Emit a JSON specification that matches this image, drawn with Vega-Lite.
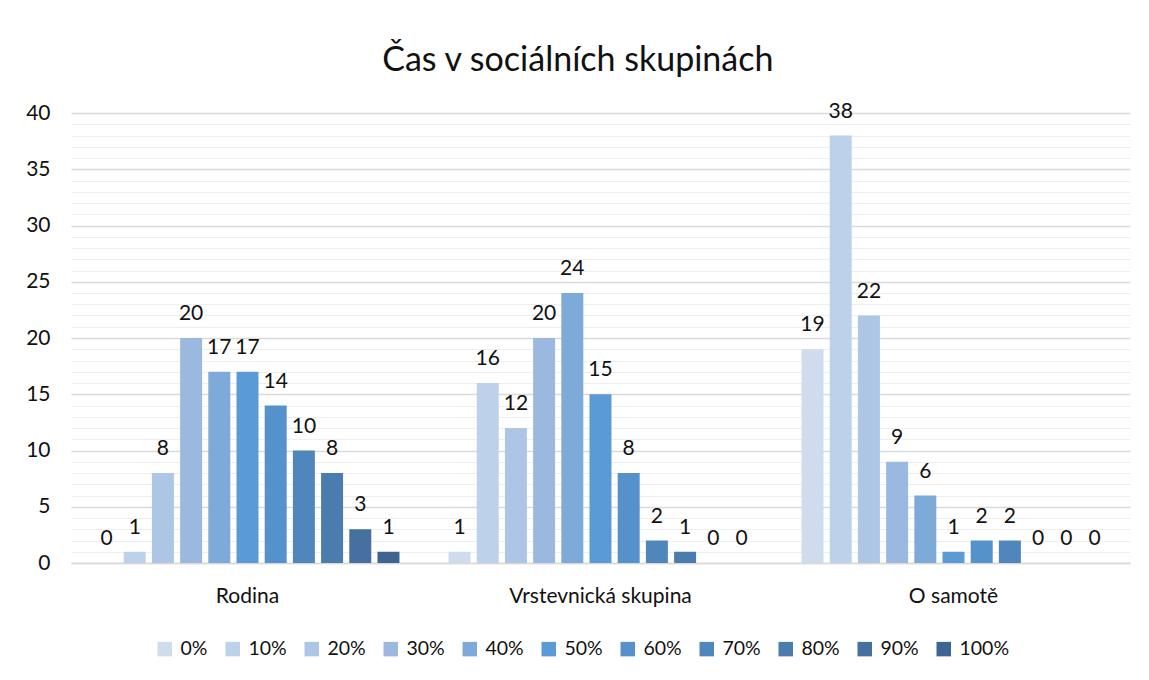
{
  "$schema": "https://vega.github.io/schema/vega-lite/v6.json",
  "width": 1059,
  "height": 450,
  "autosize": "none",
  "padding": {"left": 71, "top": 113, "right": 19, "bottom": 117},
  "background": "white",
  "title": {"text": "Čas v sociálních skupinách", "font": "Lato", "fontSize": 34, "fontWeight": "normal", "color": "#111111", "frame": "bounds", "anchor": "middle", "offset": 23},
  "config": {
    "view": {"stroke": null},
    "font": "Lato",
    "axis": {"labelFont": "Lato", "labelColor": "#111111", "labelFontSize": 21}
  },
  "data": {"values": [
    {"group": "Rodina", "series": "0%", "value": 0},
    {"group": "Rodina", "series": "10%", "value": 1},
    {"group": "Rodina", "series": "20%", "value": 8},
    {"group": "Rodina", "series": "30%", "value": 20},
    {"group": "Rodina", "series": "40%", "value": 17},
    {"group": "Rodina", "series": "50%", "value": 17},
    {"group": "Rodina", "series": "60%", "value": 14},
    {"group": "Rodina", "series": "70%", "value": 10},
    {"group": "Rodina", "series": "80%", "value": 8},
    {"group": "Rodina", "series": "90%", "value": 3},
    {"group": "Rodina", "series": "100%", "value": 1},
    {"group": "Vrstevnická skupina", "series": "0%", "value": 1},
    {"group": "Vrstevnická skupina", "series": "10%", "value": 16},
    {"group": "Vrstevnická skupina", "series": "20%", "value": 12},
    {"group": "Vrstevnická skupina", "series": "30%", "value": 20},
    {"group": "Vrstevnická skupina", "series": "40%", "value": 24},
    {"group": "Vrstevnická skupina", "series": "50%", "value": 15},
    {"group": "Vrstevnická skupina", "series": "60%", "value": 8},
    {"group": "Vrstevnická skupina", "series": "70%", "value": 2},
    {"group": "Vrstevnická skupina", "series": "80%", "value": 1},
    {"group": "Vrstevnická skupina", "series": "90%", "value": 0},
    {"group": "Vrstevnická skupina", "series": "100%", "value": 0},
    {"group": "O samotě", "series": "0%", "value": 19},
    {"group": "O samotě", "series": "10%", "value": 38},
    {"group": "O samotě", "series": "20%", "value": 22},
    {"group": "O samotě", "series": "30%", "value": 9},
    {"group": "O samotě", "series": "40%", "value": 6},
    {"group": "O samotě", "series": "50%", "value": 1},
    {"group": "O samotě", "series": "60%", "value": 2},
    {"group": "O samotě", "series": "70%", "value": 2},
    {"group": "O samotě", "series": "80%", "value": 0},
    {"group": "O samotě", "series": "90%", "value": 0},
    {"group": "O samotě", "series": "100%", "value": 0}
  ]},
  "encoding": {
    "x": {"field": "group", "type": "nominal", "sort": ["Rodina", "Vrstevnická skupina", "O samotě"],
      "scale": {"paddingInner": 0, "paddingOuter": 0},
      "axis": {"title": null, "labelAngle": 0, "ticks": false, "domain": true, "domainColor": "#d9d9d9", "domainWidth": 1.5, "labelPadding": 22, "labelBaseline": "top", "labelLimit": 400}},
    "xOffset": {"field": "series", "type": "nominal", "sort": ["0%", "10%", "20%", "30%", "40%", "50%", "60%", "70%", "80%", "90%", "100%"],
      "scale": {"paddingInner": 0.22, "paddingOuter": 0.87}},
    "y": {"field": "value", "type": "quantitative",
      "scale": {"domain": [0, 40], "nice": false},
      "axis": {"title": null, "domain": false, "ticks": false, "labelPadding": 21,
        "values": [0,1,2,3,4,5,6,7,8,9,10,11,12,13,14,15,16,17,18,19,20,21,22,23,24,25,26,27,28,29,30,31,32,33,34,35,36,37,38,39,40],
        "labelExpr": "datum.value % 5 === 0 ? datum.label : ''",
        "grid": true,
        "gridColor": {"condition": {"test": "datum.value % 5 === 0", "value": "#d9d9d9"}, "value": "#eeeeee"},
        "gridWidth": {"condition": {"test": "datum.value % 5 === 0", "value": 1.5}, "value": 1.2}}}
  },
  "layer": [
    {
      "mark": {"type": "bar"},
      "encoding": {
        "color": {"field": "series", "type": "nominal",
          "sort": ["0%", "10%", "20%", "30%", "40%", "50%", "60%", "70%", "80%", "90%", "100%"],
          "scale": {"domain": ["0%", "10%", "20%", "30%", "40%", "50%", "60%", "70%", "80%", "90%", "100%"],
            "range": ["#cfdcee", "#bdd1ea", "#adc6e5", "#9bb9e0", "#7eaad9", "#5b9bd5", "#5592cb", "#4f87bd", "#4a7cae", "#46709f", "#3e6591"]},
          "legend": {"title": null, "orient": "none", "legendX": 84, "legendY": 526, "direction": "horizontal", "columns": 11, "symbolType": "square", "symbolSize": 210, "symbolStrokeWidth": 0, "labelFontSize": 19.5, "labelFont": "Lato", "labelColor": "#111111", "columnPadding": 15, "labelOffset": 6}}
      }
    },
    {
      "mark": {"type": "text", "baseline": "alphabetic", "dy": -18, "fontSize": 21, "font": "Lato", "color": "#111111"},
      "encoding": {"text": {"field": "value", "type": "quantitative"}}
    }
  ]
}
